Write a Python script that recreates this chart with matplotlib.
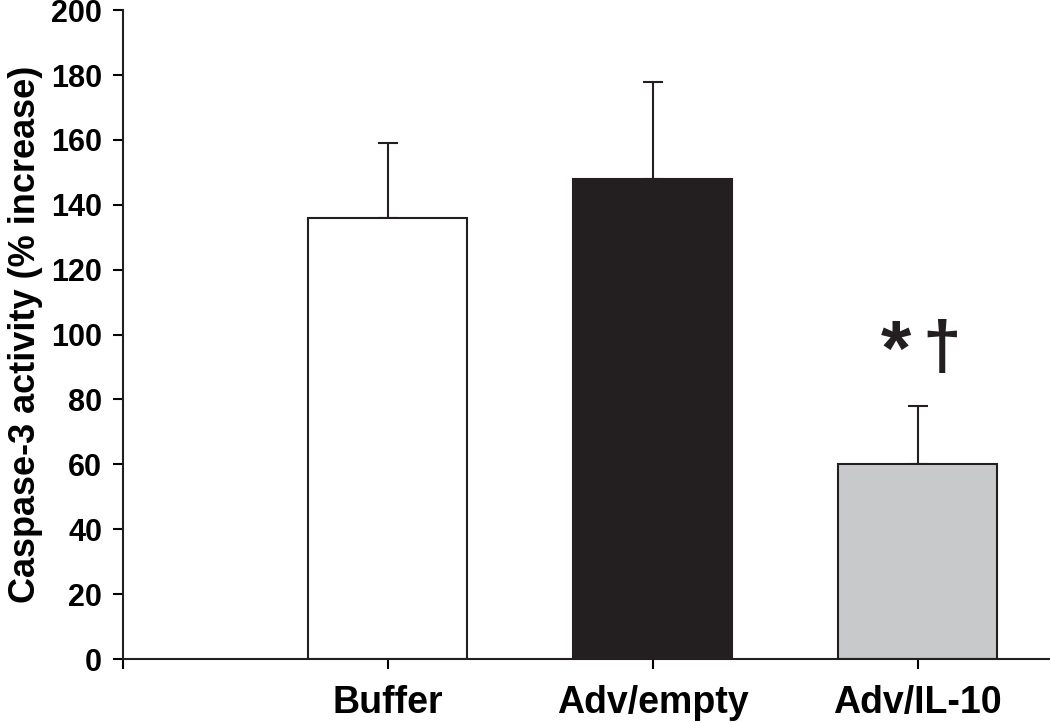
import matplotlib
matplotlib.use("Agg")
import matplotlib.pyplot as plt

# ---- data ----
groups = ["Buffer", "Adv/empty", "Adv/IL-10"]
means = [136, 148, 60]
errors = [23, 30, 18]
bar_colors = ["#ffffff", "#231f20", "#c8c9cb"]
yticks = [0, 20, 40, 60, 80, 100, 120, 140, 160, 180, 200]

plt.rcParams["font.family"] = ["Liberation Sans", "DejaVu Sans"]
plt.rcParams["font.weight"] = "bold"

fig = plt.figure(figsize=(10.5, 7.23), dpi=100)
ax = fig.add_axes([0.117, 0.0885, 0.883, 0.8975])

pos = [1, 2, 3]
ax.bar(pos, means, width=0.6, color=bar_colors, edgecolor="#231f20",
       linewidth=1.5, zorder=2)
ax.errorbar(pos, means, yerr=[[0] * 3, errors], fmt="none",
            ecolor="#231f20", elinewidth=1.5, capsize=7, capthick=1.5,
            zorder=1)

# significance marks over Adv/IL-10
ax.text(2.92, 94, "*", ha="center", va="center", fontsize=56,
        fontweight="bold", color="#231f20")
ax.text(3.09, 95, "\u2020", ha="center", va="center", fontsize=50,
        fontweight="bold", color="#231f20")

ax.set_xlim(0, 3.5)
ax.set_ylim(0, 200)
ax.set_yticks(yticks)
ax.set_xticks([0] + pos)
ax.set_xticklabels([""] + groups, fontsize=27, fontweight="bold")
ax.tick_params(axis="y", labelsize=22, length=7, width=1.5, pad=8)
ax.tick_params(axis="x", length=7, width=1.5, pad=12)
for lbl in ax.get_yticklabels():
    lbl.set_fontweight("bold")

ax.set_ylabel("Caspase-3 activity (% increase)", fontsize=26,
              fontweight="bold", labelpad=6)

for side in ["top", "right"]:
    ax.spines[side].set_visible(False)
for side in ["left", "bottom"]:
    ax.spines[side].set_linewidth(1.5)
    ax.spines[side].set_color("#231f20")

fig.savefig("out.png", dpi=100)
